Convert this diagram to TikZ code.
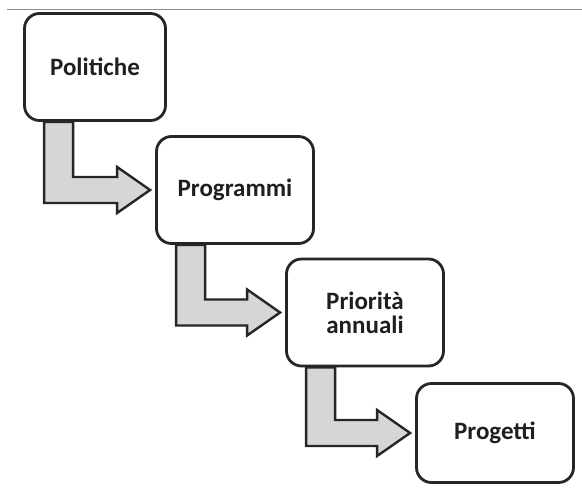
\documentclass[tikz,border=0pt]{standalone}
\usepackage{fontspec}
\setmainfont{Carlito}
\usetikzlibrary{calc,backgrounds}

\tikzset{
  box/.style={draw=black!85, line width=2.8pt, rounded corners=15pt, fill=white,
    minimum width=157pt, minimum height=107pt, align=center, text=black!88,
    font=\fontsize{25}{24}\selectfont\bfseries},
  flow/.style={draw=black!85, line width=2.4pt, fill=black!16, line join=miter}
}

% freccia a gomito sotto una casella verso la successiva
\newcommand\flowarrow[2]{%
  \draw[flow] let \p1=(#1.south west), \p2=(#2.west) in
    (\x1+21pt,\y1) -- (\x1+21pt,\y2-13pt) -- (\x2-38pt,\y2-13pt) -- (\x2-38pt,\y2-23pt)
    -- (\x2-5pt,\y2) -- (\x2-38pt,\y2+23pt) -- (\x2-38pt,\y2+13pt)
    -- (\x1+50pt,\y2+13pt) -- (\x1+50pt,\y1) -- cycle;}

\begin{document}
\begin{tikzpicture}[x=1pt,y=1pt]
  \useasboundingbox (0,0) rectangle (582,488);

  % linea in alto
  \draw[black!45, line width=1pt] (7,478) -- (582,478);

  % caselle
  \node[box, minimum width=141pt] (pol) at (95,421) {Politiche};
  \node[box] (prog) at (235,298) {Programmi};
  \node[box] (prio) at (365,175.5) {Priorità\\annuali};
  \node[box, minimum height=99pt] (proj) at (495,55) {Progetti};

  % frecce dietro le caselle
  \begin{scope}[on background layer]
    \flowarrow{pol}{prog}
    \flowarrow{prog}{prio}
    \flowarrow{prio}{proj}
  \end{scope}
\end{tikzpicture}
\end{document}
